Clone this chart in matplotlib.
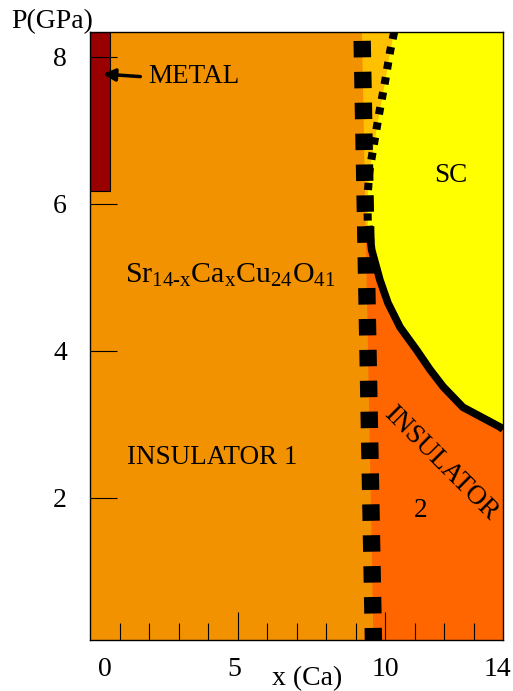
import numpy as np
import matplotlib
matplotlib.use("Agg")
import matplotlib.pyplot as plt

plt.rcParams['font.family'] = ['Liberation Serif', 'DejaVu Serif']
plt.rcParams['mathtext.fontset'] = 'custom'
plt.rcParams['mathtext.rm'] = 'Liberation Serif'
plt.rcParams['mathtext.it'] = 'Liberation Serif'

# phase boundaries (x = Ca content, P in GPa)
ins1_x = [9.61, 9.22]
ins1_y = [0.0, 8.34]

dot_x = [10.31, 10.17, 10.00, 9.81, 9.64, 9.47, 9.40, 9.42]
dot_y = [8.34, 8.07, 7.66, 7.25, 6.85, 6.44, 6.05, 5.70]

sc_x = [9.45, 9.55, 9.83, 10.10, 10.51, 11.07, 11.53, 11.97, 12.64, 13.90, 14.0]
sc_y = [5.70, 5.37, 4.96, 4.65, 4.32, 4.01, 3.74, 3.51, 3.23, 2.96, 2.93]

metal_x = [0.0, 0.68]
metal_y = [6.18, 8.34]

xmax = 14.0
ymin, ymax = 0.06, 8.34

x_tick_labels = ['0', '5', '10', '14']
x_label_pos = [0.5, 4.9, 10.0, 13.8]
y_ticks = [2, 4, 6, 8]

c_orange = '#F39200'
c_amber = '#FFC000'
c_yellow = '#FFFF00'
c_dark = '#FF6600'
c_metal = '#990000'

fig = plt.figure(figsize=(5.13, 6.91), dpi=100)
ax = fig.add_axes([90/513, 1-640/691, 413/513, 608/691])
ax.set_facecolor(c_orange)
ax.set_xlim(0, xmax)
ax.set_ylim(ymin, ymax)


def ins1_at(y):
    return np.interp(y, ins1_y, ins1_x)


# amber strip between the two boundaries
amb_x = [ins1_at(ymax)] + dot_x + [ins1_at(dot_y[-1])]
amb_y = [ymax] + dot_y + [dot_y[-1]]
ax.fill(amb_x, amb_y, color=c_amber, lw=0)

# superconducting region
sc_px = dot_x + sc_x + [xmax, xmax]
sc_py = dot_y + sc_y + [sc_y[-1], ymax]
ax.fill(sc_px, sc_py, color=c_yellow, lw=0)

# insulator 2
i2_x = [ins1_at(0), ins1_at(sc_y[0])] + sc_x + [xmax]
i2_y = [0, sc_y[0]] + sc_y + [0]
ax.fill(i2_x, i2_y, color=c_dark, lw=0)

# metal bar
ax.fill_between(metal_x, metal_y[0], metal_y[1], facecolor=c_metal,
                edgecolor='black', lw=0.8)

# boundary lines
ax.plot(ins1_x, ins1_y, color='black', lw=12.5, solid_capstyle='butt',
        dash_capstyle='butt', linestyle=(0, (0.95, 0.83)))
ax.plot(dot_x, dot_y, color='black', lw=5.8, dash_capstyle='butt',
        linestyle=(0, (0.9, 1.0)))
ax.plot(sc_x, sc_y, color='black', lw=5.5, solid_capstyle='butt',
        solid_joinstyle='miter')

# axes, ticks
ax.set_yticks(y_ticks)
ax.set_yticklabels([str(t) for t in y_ticks])
ax.tick_params(axis='y', which='major', direction='in', length=19.4,
               width=0.8, pad=16.5, labelsize=20, color='black')
ax.set_xticks([5, 10])
ax.set_xticks([1, 2, 3, 4, 6, 7, 8, 9, 11, 12, 13], minor=True)
ax.tick_params(axis='x', which='major', direction='in', length=20,
               width=0.8, labelbottom=False)
ax.tick_params(axis='x', which='minor', direction='in', length=12.2,
               width=0.8, labelbottom=False)
for s in ax.spines.values():
    s.set_linewidth(1.0)

xt = ax.get_xaxis_transform()
for pos, lab in zip(x_label_pos, x_tick_labels):
    ax.text(pos, -0.048, lab, transform=xt, ha='center', va='center',
            fontsize=20)
ax.text(7.36, -0.064, 'x (Ca)', transform=xt, ha='center', va='center',
        fontsize=20)
fig.text(52/513, 1-22/691, 'P(GPa)', ha='center', va='center', fontsize=20)

# labels
ax.annotate('', xy=(0.34, 7.77), xytext=(1.80, 7.73),
            arrowprops=dict(arrowstyle='-|>', color='black', lw=2.5,
                            mutation_scale=18))
ax.text(1.97, 7.73, 'METAL', fontsize=19.5, va='center', ha='left')
ax.text(1.19, 5.03, r'Sr$_{14\text{-}x}$Ca$_x$Cu$_{24}$O$_{41}$',
        fontsize=21.5, va='center', ha='left')
ax.text(1.25, 2.55, 'INSULATOR 1', fontsize=19.5, va='center', ha='left')
ax.text(12.24, 6.39, 'SC', fontsize=19.5, va='center', ha='center')
ax.text(11.19, 1.83, '2', fontsize=19.5, va='center', ha='center')
ax.text(11.9, 2.47, 'INSULATOR', fontsize=19.5, va='center', ha='center',
        rotation=-45, rotation_mode='anchor')

fig.savefig('out.png', dpi=100)
